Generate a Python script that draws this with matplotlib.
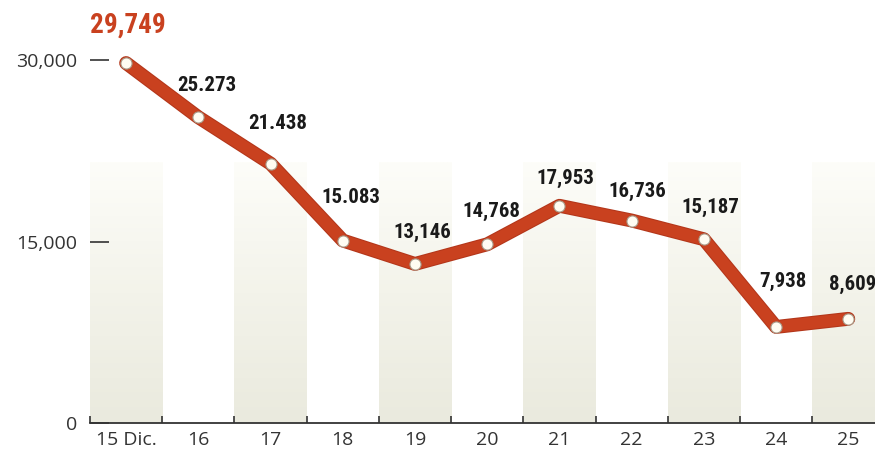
import numpy as np
import matplotlib.pyplot as plt
import matplotlib.patheffects as pe
from matplotlib.colors import LinearSegmentedColormap

# data
days = ["15 Dic.", "16", "17", "18", "19", "20", "21", "22", "23", "24", "25"]
values = [29749, 25273, 21438, 15083, 13146, 14768, 17953, 16736, 15187, 7938, 8609]
value_labels = ["29,749", "25.273", "21.438", "15.083", "13,146", "14,768",
                "17,953", "16,736", "15,187", "7,938", "8,609"]
y_ticks = [0, 15000, 30000]
y_tick_labels = ["0", "15,000", "30,000"]

# label offsets (points) relative to each marker
label_offsets = [(1, 27), (6, 23), (5, 29), (6, 31), (5, 23), (3, 24),
                 (4, 20), (4, 21), (5, 23), (5, 33), (3, 25)]

red = "#c9411f"
band_top = 21500
label_font = ["Roboto Condensed", "Liberation Sans Narrow", "Liberation Sans"]

fig = plt.figure(figsize=(8.75, 4.55), dpi=100)
ax = fig.add_axes([90 / 875, 32 / 455, 785 / 875, 423 / 455])

x = np.arange(len(days))

# shaded bands behind every other day
band_cmap = LinearSegmentedColormap.from_list("band", ["#eaeade", "#f3f3ea", "#fdfdf9"])
grad = np.linspace(0, 1, 100).reshape(-1, 1)
for i in range(0, len(days), 2):
    ax.imshow(grad, extent=[i - 0.5, i + 0.5, 0, band_top], origin="lower",
              cmap=band_cmap, aspect="auto", zorder=0)

# main line
ax.plot(x, values, color=red, lw=8.5, solid_capstyle="round", zorder=3,
        path_effects=[pe.Stroke(linewidth=10, foreground="#b3361a"), pe.Normal()])
ax.plot(x, values, "o", color="#fffcf2", markersize=8, markeredgecolor="#a89a88",
        markeredgewidth=0.8, zorder=4)

# value labels
for i, (v, lab) in enumerate(zip(values, value_labels)):
    dx, dy = label_offsets[i]
    if i == 0:
        ax.annotate(lab, (x[i], v), xytext=(dx, dy), textcoords="offset points",
                    ha="center", va="center", fontsize=19.5, fontweight="bold",
                    color=red, family=label_font)
    else:
        ax.annotate(lab, (x[i], v), xytext=(dx, dy), textcoords="offset points",
                    ha="center", va="center", fontsize=15, fontweight="bold",
                    color="#1a1a1a", family=label_font)

ax.set_xlim(-0.5, 10.37)
ax.set_ylim(0, 34960)

# axes styling
for s in ["left", "top", "right"]:
    ax.spines[s].set_visible(False)
ax.spines["bottom"].set_color("#333333")
ax.spines["bottom"].set_linewidth(1.3)

ax.set_xticks(x)
ax.set_xticklabels(days, family="Open Sans", fontsize=14, color="#333333")
ax.tick_params(axis="x", which="major", length=0, pad=6)
ax.set_xticks(np.arange(-0.5, 10.5, 1), minor=True)
ax.tick_params(axis="x", which="minor", direction="in", length=5, width=1.2,
               color="#333333")

ax.set_yticks(y_ticks)
ax.set_yticklabels(y_tick_labels, family="Open Sans", fontsize=14, color="#333333")
ax.tick_params(axis="y", direction="in", length=14, width=1.2, color="#333333", pad=9)

fig.savefig("out.png", dpi=100)
